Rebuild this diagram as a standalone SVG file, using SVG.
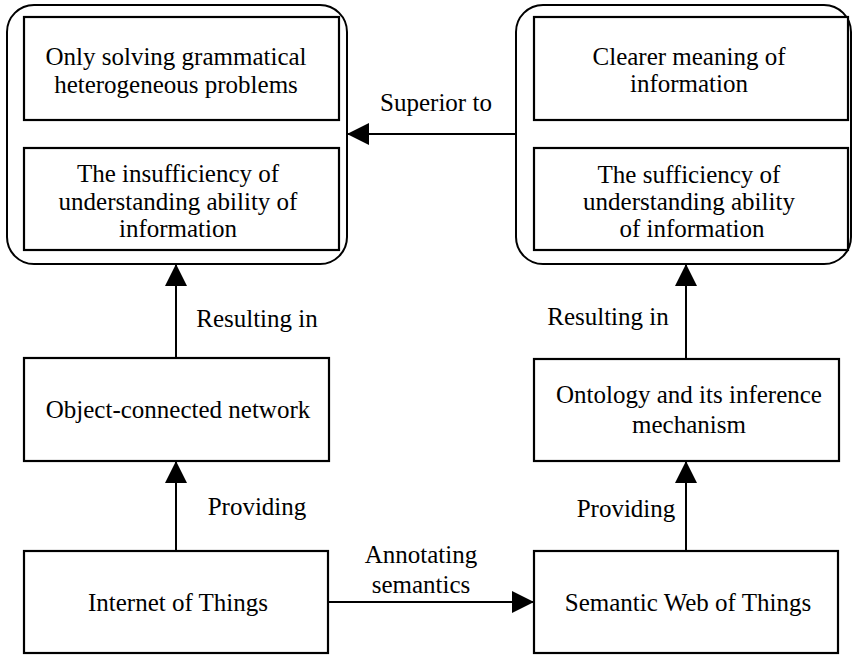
<svg xmlns="http://www.w3.org/2000/svg" width="853" height="656" viewBox="0 0 853 656">
<defs>
<style>
.box{fill:#fff;stroke:#000;stroke-width:2.2}
.grp{fill:#fff;stroke:#000;stroke-width:2}
.t{font-family:"Liberation Serif","Times New Roman",serif;font-size:25px;fill:#000;text-anchor:middle}
.c{stroke:#000;stroke-width:2;fill:none;marker-end:url(#arr)}
</style>
<marker id="arr" markerUnits="userSpaceOnUse" markerWidth="22" markerHeight="22" viewBox="0 0 20 20" refX="20" refY="10" orient="auto">
<path d="M0,0 L20,10 L0,20 Z" fill="#000"/>
</marker>
</defs>
<rect width="853" height="656" fill="#fff"/>
<g id="group-left">
<rect class="grp" x="7" y="5" width="340" height="259" rx="27"/>
<g id="only-solving">
<rect class="box" x="24" y="17" width="315" height="103"/>
<text class="t" x="176" y="65">Only solving grammatical</text>
<text class="t" x="176" y="93">heterogeneous problems</text>
</g>
<g id="insufficiency">
<rect class="box" x="24" y="148" width="315" height="102"/>
<text class="t" x="178" y="182">The insufficiency of</text>
<text class="t" x="178" y="210">understanding ability of</text>
<text class="t" x="178" y="237">information</text>
</g>
</g>
<g id="group-right">
<rect class="grp" x="516" y="5" width="335" height="259" rx="27"/>
<g id="clearer">
<rect class="box" x="534" y="17" width="314" height="103"/>
<text class="t" x="689" y="65">Clearer meaning of</text>
<text class="t" x="689" y="92">information</text>
</g>
<g id="sufficiency">
<rect class="box" x="534" y="148" width="314" height="102"/>
<text class="t" x="689" y="183">The sufficiency of</text>
<text class="t" x="689" y="210">understanding ability</text>
<text class="t" x="692" y="237">of information</text>
</g>
</g>
<g id="object-network">
<rect class="box" x="24" y="358" width="305" height="103"/>
<text class="t" x="178" y="418">Object-connected network</text>
</g>
<g id="ontology">
<rect class="box" x="534" y="359" width="305" height="102"/>
<text class="t" x="689" y="403">Ontology and its inference</text>
<text class="t" x="689" y="433">mechanism</text>
</g>
<g id="iot">
<rect class="box" x="24" y="551" width="304" height="102"/>
<text class="t" x="178" y="611">Internet of Things</text>
</g>
<g id="swot">
<rect class="box" x="534" y="551" width="304" height="102"/>
<text class="t" x="688" y="611">Semantic Web of Things</text>
</g>
<g id="connectors">
<line class="c" x1="516" y1="134" x2="347" y2="134"/>
<line class="c" x1="176" y1="551" x2="176" y2="461"/>
<line class="c" x1="176" y1="358" x2="176" y2="264"/>
<line class="c" x1="686" y1="551" x2="686" y2="461"/>
<line class="c" x1="686" y1="359" x2="686" y2="264"/>
<line class="c" x1="328" y1="602" x2="534" y2="602"/>
<text class="t" x="436" y="111">Superior to</text>
<text class="t" x="257" y="327">Resulting in</text>
<text class="t" x="608" y="325">Resulting in</text>
<text class="t" x="257" y="515">Providing</text>
<text class="t" x="626" y="517">Providing</text>
<text class="t" x="421" y="563">Annotating</text>
<text class="t" x="421" y="593">semantics</text>
</g>
</svg>
